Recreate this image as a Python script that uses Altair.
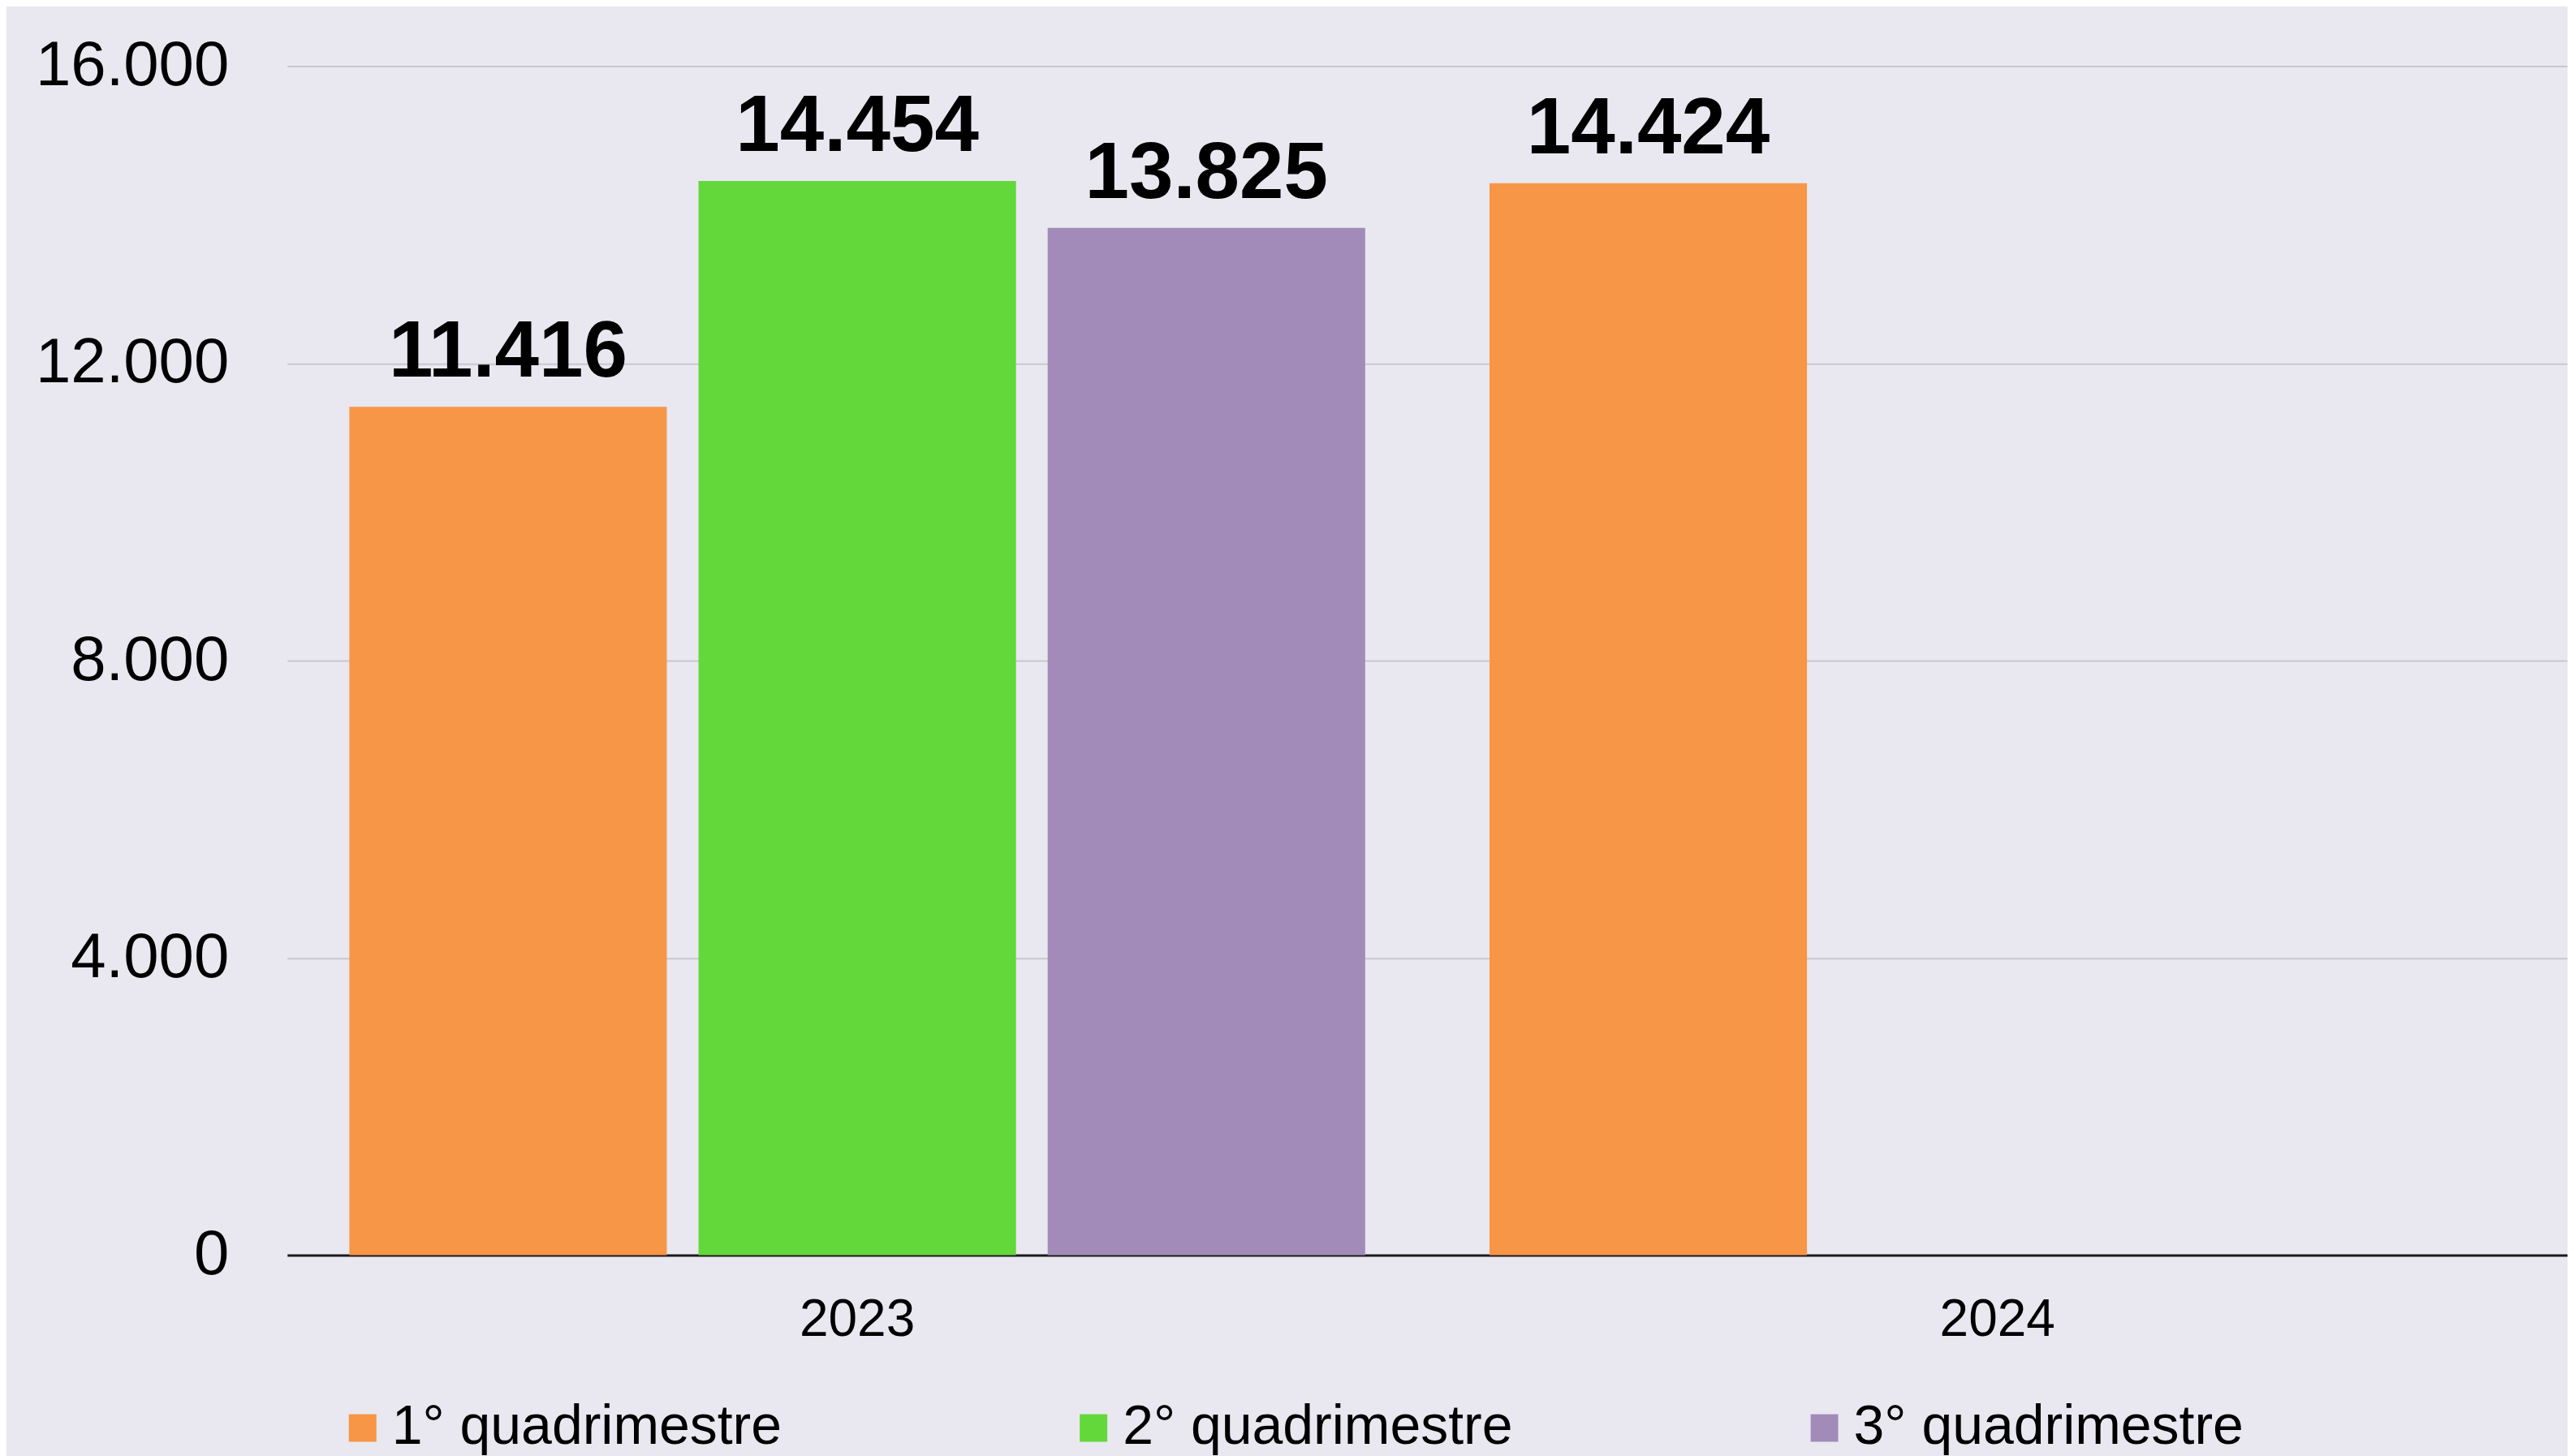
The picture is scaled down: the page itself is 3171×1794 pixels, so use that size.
import altair as alt
import pandas as pd

# ---- data ----
years = ["2023", "2023", "2023", "2024"]
quads = ["1° quadrimestre", "2° quadrimestre", "3° quadrimestre", "1° quadrimestre"]
values = [11416, 14454, 13825, 14424]

year_order = ["2023", "2024"]
quad_order = ["1° quadrimestre", "2° quadrimestre", "3° quadrimestre"]
quad_colors = ["#F79646", "#63D83A", "#A28BB9"]
y_ticks = [0, 4000, 8000, 12000, 16000]

df = pd.DataFrame({"ano": years, "quadrimestre": quads, "valor": values})
df["rotulo"] = [f"{v:,}".replace(",", ".") for v in values]

W, H = 2811, 1466
FONT = "Liberation Sans"

x_enc = alt.X(
    "ano:N",
    sort=year_order,
    scale=alt.Scale(domain=year_order, paddingInner=0, paddingOuter=0),
    axis=alt.Axis(
        title=None, labelAngle=0, labelFontSize=64, labelPadding=48,
        ticks=False, tickSize=0, domainColor="#1a1a1a", domainWidth=3,
        labelColor="#000000", labelFont=FONT, grid=False, labelLimit=1000,
    ),
)
xoff_enc = alt.XOffset(
    "quadrimestre:N",
    sort=quad_order,
    scale=alt.Scale(domain=quad_order, paddingInner=0.0907, paddingOuter=0.178),
)
y_enc = alt.Y(
    "valor:Q",
    scale=alt.Scale(domain=[0, 16000], nice=False),
    axis=alt.Axis(
        values=y_ticks, title=None,
        labelExpr="replace(format(datum.value, ','), ',', '.')",
        labelFontSize=78, labelPadding=72, ticks=False, tickSize=0,
        domain=False, gridColor="#C8C8CD", gridWidth=2,
        labelColor="#000000", labelFont=FONT, labelLimit=1000,
    ),
)

base = alt.Chart(df)

bars = base.mark_bar().encode(
    x=x_enc,
    xOffset=xoff_enc,
    y=y_enc,
    color=alt.Color(
        "quadrimestre:N",
        sort=quad_order,
        scale=alt.Scale(domain=quad_order, range=quad_colors),
        legend=alt.Legend(
            title=None, orient="none", legendX=59, legendY=1645,
            direction="horizontal", symbolType="square", symbolSize=1156,
            symbolStrokeWidth=0, labelFontSize=68, labelFont=FONT,
            labelColor="#000000", labelLimit=2000, columnPadding=350,
            labelOffset=2,
        ),
    ),
)

labels = base.mark_text(
    baseline="alphabetic", dy=-37, fontSize=98, fontWeight="bold",
    font=FONT, color="#000000",
).encode(
    x=x_enc,
    xOffset=xoff_enc,
    y=y_enc,
    text="rotulo:N",
)

chart = (
    alt.layer(bars, labels)
    .properties(
        width=W,
        height=H,
        padding={"left": 346, "top": 73, "right": 0, "bottom": 250},
        autosize=alt.AutoSizeParams(type="none"),
        background="#E9E8F1",
    )
    .configure_view(stroke=None)
)

chart.save("out.html", embed_options={"renderer": "svg", "actions": False})
